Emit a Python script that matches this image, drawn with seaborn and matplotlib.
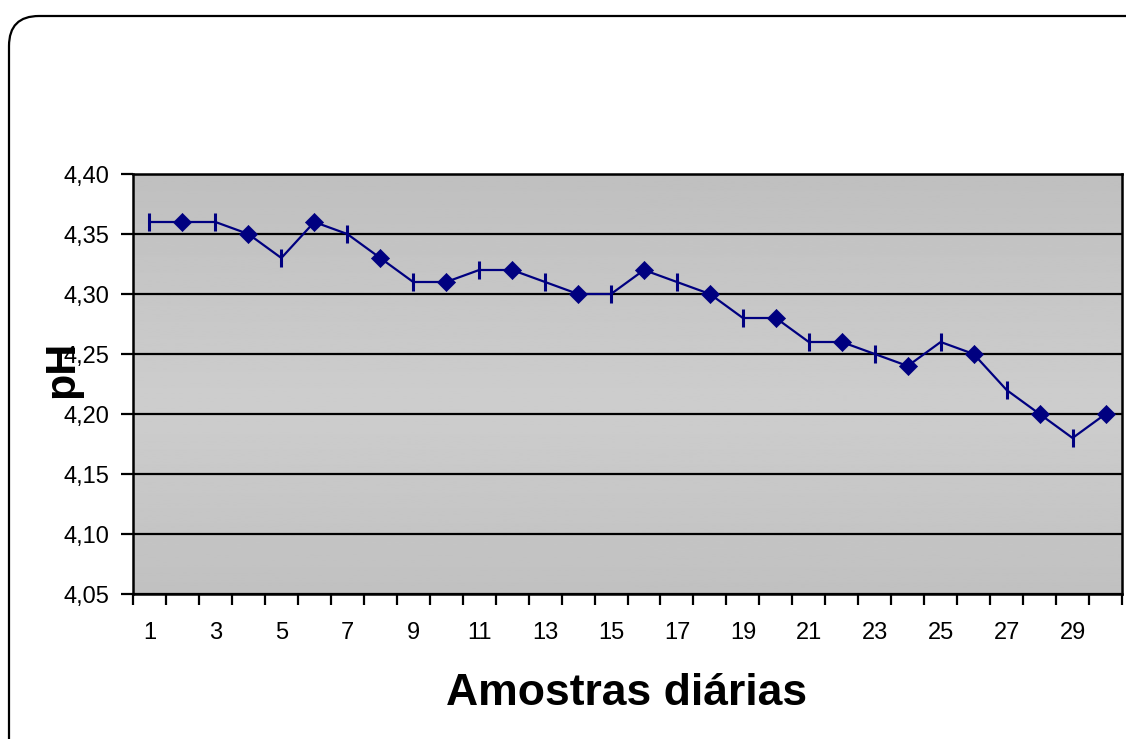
import numpy as np
import pandas as pd
import matplotlib
matplotlib.use("Agg")
import matplotlib.pyplot as plt
import seaborn as sns
from matplotlib.patches import FancyBboxPatch
from matplotlib.ticker import FixedLocator, FuncFormatter

# Daily pH readings
dias = list(range(1, 31))
ph = [4.36, 4.36, 4.36, 4.35, 4.33, 4.36, 4.35, 4.33, 4.31, 4.31,
      4.32, 4.32, 4.31, 4.30, 4.30, 4.32, 4.31, 4.30, 4.28, 4.28,
      4.26, 4.26, 4.25, 4.24, 4.26, 4.25, 4.22, 4.20, 4.18, 4.20]
y_ticks = [4.05, 4.10, 4.15, 4.20, 4.25, 4.30, 4.35, 4.40]
x_labels = [1, 3, 5, 7, 9, 11, 13, 15, 17, 19, 21, 23, 25, 27, 29]

sns.set_style("ticks")
plt.rcParams["font.family"] = ["Liberation Sans", "DejaVu Sans"]
plt.rcParams["text.color"] = "black"
plt.rcParams["xtick.color"] = "black"
plt.rcParams["ytick.color"] = "black"

df = pd.DataFrame({"dia": dias, "pH": ph})
df["par"] = df["dia"] % 2 == 0

W, H = 1126, 739
fig = plt.figure(figsize=(W / 100, H / 100), dpi=100)

# rounded outer frame, drawn in pixel units
frame_ax = fig.add_axes([0, 0, 1, 1], zorder=-1)
frame_ax.set_xlim(0, W)
frame_ax.set_ylim(H, 0)
frame_ax.axis("off")
frame_ax.add_patch(FancyBboxPatch((9, 16), 1200, 760,
                                  boxstyle="round,pad=0,rounding_size=30",
                                  fc="white", ec="black", lw=1.6))

ax = fig.add_axes([133 / W, 1 - 594 / H, (1122 - 133) / W, (594 - 174) / H])
ax.patch.set_alpha(0)

x0, x1, y0, y1 = 0.5, 30.5, 4.05, 4.40
# soft grey vertical gradient for the plot area
t = np.linspace(0, 1, 256)
shade = np.interp(t, [0.0, 0.55, 1.0], [0.75, 0.805, 0.755])
ax.imshow(shade[:, None], extent=[x0, x1, y0, y1], aspect="auto",
          cmap="gray", vmin=0, vmax=1, zorder=0, origin="upper")

navy = "#000080"
sns.lineplot(data=df, x="dia", y="pH", color=navy, lw=1.6, ax=ax, zorder=3)
sns.scatterplot(data=df[df["par"]], x="dia", y="pH", marker="D", s=85,
                color=navy, edgecolor=navy, linewidth=0.5, ax=ax, zorder=4)
sns.scatterplot(data=df[~df["par"]], x="dia", y="pH", marker="|", s=150,
                color=navy, linewidth=2.2, ax=ax, zorder=4)

ax.set_xlim(x0, x1)
ax.set_ylim(y0, y1)
ax.set_xlabel("")
ax.set_ylabel("")

ax.set_yticks(y_ticks)
ax.yaxis.set_major_formatter(FuncFormatter(lambda v, p: f"{v:.2f}".replace(".", ",")))
ax.yaxis.grid(True, color="black", lw=1.6)
ax.set_axisbelow(True)

ax.xaxis.set_major_locator(FixedLocator(x_labels))
ax.set_xticklabels([str(v) for v in x_labels])
ax.xaxis.set_minor_locator(FixedLocator(np.arange(x0, x1 + 0.01, 1.0)))
ax.tick_params(axis="x", which="major", length=0, pad=20, labelsize=17,
               labelcolor="black")
ax.tick_params(axis="x", which="minor", length=8, width=1.6, direction="out", color="black")
ax.tick_params(axis="y", which="major", length=9, width=1.6, direction="out",
               pad=8, labelsize=17, color="black", labelcolor="black")

for side in ["left", "bottom", "right", "top"]:
    ax.spines[side].set_visible(True)
    ax.spines[side].set_color("black")
    ax.spines[side].set_linewidth(1.8)

fig.text(627 / W, 1 - 705 / H, "Amostras diárias", ha="center", va="baseline",
         fontsize=32, fontweight="bold", color="black")
fig.text(62 / W, 1 - 369 / H, "pH", ha="center", va="center", rotation=90,
         fontsize=31, fontweight="bold", color="black")

fig.savefig("out.png", dpi=100)
